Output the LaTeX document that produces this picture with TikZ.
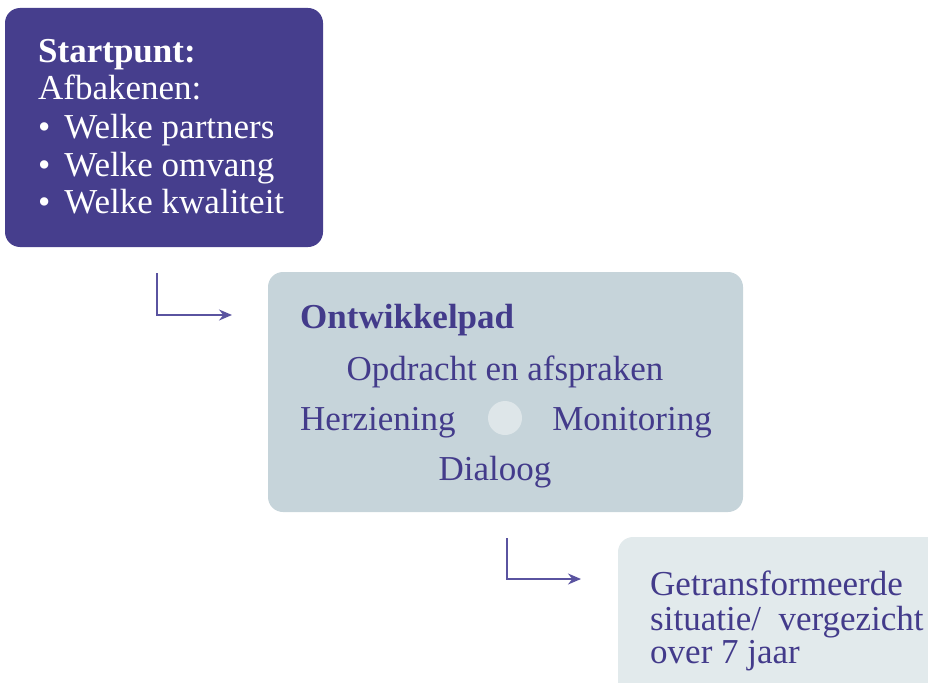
\documentclass[tikz,border=0pt]{standalone}
\usepackage{fontspec}
\setmainfont{Liberation Serif}
\usetikzlibrary{arrows.meta}
\definecolor{darkpurple}{HTML}{463E8D}
\definecolor{txtpurple}{HTML}{433B8B}
\definecolor{arrowpurple}{HTML}{5A53A0}
\definecolor{greyblue}{HTML}{C6D4DA}
\definecolor{palegrey}{HTML}{E2EAEC}
\definecolor{dotgrey}{HTML}{DEE6E9}
\newcommand{\bul}{\textbullet\hspace{14pt}}
\tikzset{
  box/.style={rounded corners=15pt},
  txt/.style={anchor=base west, inner sep=0pt, font=\fontsize{35}{37}\selectfont},
  ptxt/.style={txt, text=txtpurple},
  conn/.style={draw=arrowpurple, line width=1.4pt, -{Stealth[length=13pt,width=11pt]}}
}
\begin{document}
\begin{tikzpicture}[x=1pt,y=-1pt]
\useasboundingbox (0,0) rectangle (928,682);
\clip (0,0) rectangle (928,682);
% boxes
\fill[box, darkpurple] (5,8) rectangle (323,247);
\fill[box, greyblue] (268,272) rectangle (743,512);
\fill[box, palegrey] (618,537) rectangle (960,720);
\fill[dotgrey] (505,418) circle (17);
% box 1 text
\node[txt, text=white] (s1) at (38,63) {\bfseries Startpunt:};
\node[txt, text=white] (s2) at (38,100) {Afbakenen:};
\node[txt, text=white] (s3) at (38,138) {\bul Welke partners};
\node[txt, text=white] (s4) at (38,176) {\bul Welke omvang};
\node[txt, text=white] (s5) at (38,213) {\bul Welke kwaliteit};
% box 2 text
\node[ptxt] (o1) at (300,328) {\bfseries Ontwikkelpad};
\node[ptxt, anchor=base] (o2) at (505,380) {Opdracht en afspraken};
\node[ptxt] (o3) at (300,430) {Herziening};
\node[ptxt, anchor=base east] (o4) at (712,430) {Monitoring};
\node[ptxt, anchor=base] (o5) at (495,480) {Dialoog};
% box 3 text
\node[ptxt] (g1) at (650,595) {Getransformeerde};
\node[ptxt] (g2) at (650,630) {situatie/\ \ vergezicht};
\node[ptxt] (g3) at (650,663) {over 7 jaar};
% connectors
\coordinate (a1s) at (157,273);
\coordinate (a1e) at (232,315);
\draw[conn] (a1s) |- (a1e);
\coordinate (a2s) at (507,538);
\coordinate (a2e) at (581,579);
\draw[conn] (a2s) |- (a2e);
\end{tikzpicture}
\end{document}
